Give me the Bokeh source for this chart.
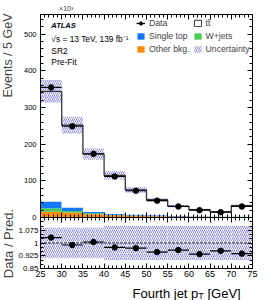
import math
from bokeh.plotting import figure
from bokeh.models import (ColumnDataSource, Label, Span, LinearAxis, SingleIntervalTicker,
                          FixedTicker, Legend, LegendItem, CustomJSTickFormatter)
from bokeh.layouts import column, row
from bokeh.embed import file_html
from bokeh.resources import INLINE

# ---------------- data (values in units of 10^3 events) ----------------
bin_edges = [25, 30, 35, 40, 45, 50, 55, 60, 65, 70, 75]
data = [355, 249, 174, 112, 73, 46, 30, 20, 14.5, 30]
mc_total = [344, 252, 173, 115, 75.3, 48.6, 31.3, 21.4, 15.2, 32.0]
other_bkg = [16, 13.5, 9, 6, 4.5, 3.5, 2.5, 2.0, 1.5, 1.5]
wjets = [9, 4.5, 2.5, 1.5, 1.0, 0.8, 0.5, 0.4, 0.3, 0.4]
single_top = [19, 9, 4.5, 2.5, 2.0, 1.5, 1.0, 0.8, 0.6, 1.0]
unc_up = [0.09, 0.09, 0.09, 0.10, 0.10, 0.10, 0.10, 0.10, 0.10, 0.10]
unc_dn = [0.09, 0.09, 0.09, 0.10, 0.10, 0.10, 0.10, 0.10, 0.10, 0.10]
main_yticks = [0, 100, 200, 300, 400, 500]
ratio_yticks = [0.85, 0.925, 1.0, 1.075]
x_ticks = [25, 30, 35, 40, 45, 50, 55, 60, 65, 70, 75]

FONT = "Liberation Sans"
C_OTHER = "#ff8c00"
C_WJETS = "#48cc58"
C_STOP = "#1478ff"
HATCH = "#6b6be6"

left = bin_edges[:-1]
right = bin_edges[1:]
centers = [(a + b) / 2 for a, b in zip(left, right)]
half = [(b - a) / 2 for a, b in zip(left, right)]

b1 = other_bkg
b2 = [a + b for a, b in zip(b1, wjets)]
b3 = [a + b for a, b in zip(b2, single_top)]
ratio = [d / m for d, m in zip(data, mc_total)]

src = ColumnDataSource(dict(
    left=left, right=right, x=centers,
    xl=[c - h for c, h in zip(centers, half)], xr=[c + h for c, h in zip(centers, half)],
    zero=[0] * len(left), b1=b1, b2=b2, b3=b3, tot=mc_total,
    band_lo=[m * (1 - d) for m, d in zip(mc_total, unc_dn)],
    band_hi=[m * (1 + u) for m, u in zip(mc_total, unc_up)],
    data=data, ratio=ratio,
    r_lo=[1 - d for d in unc_dn], r_hi=[1 + u for u in unc_up],
))

COMMON = dict(output_backend="svg", toolbar_location=None, title=None,
              x_axis_location=None, y_axis_location=None)

LS = 15          # width of the left title strip (page px)
RW = 266 - LS    # width of the right column
OV = 5           # main figure's extra bottom border, overlapped by the ratio panel


def style_axis(ax, labels=True, size="7.5px", tin=5, tout=0, min_in=3, min_out=0, standoff=2):
    ax.axis_line_color = "black"
    ax.major_tick_line_color = "black"
    ax.minor_tick_line_color = "black"
    ax.major_tick_in = tin
    ax.major_tick_out = tout
    ax.minor_tick_in = min_in
    ax.minor_tick_out = min_out
    ax.major_label_text_font = FONT
    ax.major_label_text_color = "black"
    ax.major_label_text_font_size = size
    ax.major_label_standoff = standoff
    if not labels:
        ax.formatter = CustomJSTickFormatter(code="return ''")
        ax.major_label_text_font_size = "0px"
        ax.major_label_standoff = 0


def strip(w, h, xr, yr):
    f = figure(width=w, height=h, x_range=xr, y_range=yr, min_border=0, **COMMON)
    f.grid.visible = False
    f.outline_line_color = None
    return f


# ---------------- main panel (page x 37..252, y 14..217) ----------------
Y_MAX = 554
p = figure(width=RW, height=203 + OV, x_range=(25, 75), y_range=(0, Y_MAX),
           min_border_left=37 - LS, min_border_right=14, min_border_top=0,
           min_border_bottom=OV, **COMMON)
p.grid.visible = False
p.outline_line_color = "black"

yt = SingleIntervalTicker(interval=100, num_minor_ticks=5)
ax_l = LinearAxis(ticker=yt)
style_axis(ax_l, True, "7.5px", standoff=4)
p.add_layout(ax_l, "left")
ax_r = LinearAxis(ticker=yt)
style_axis(ax_r, False)
p.add_layout(ax_r, "right")
ax_t = LinearAxis(ticker=SingleIntervalTicker(interval=5, num_minor_ticks=5))
style_axis(ax_t, False)
p.add_layout(ax_t, "above")
ax_b = LinearAxis(ticker=SingleIntervalTicker(interval=5, num_minor_ticks=5))
style_axis(ax_b, False)
p.add_layout(ax_b, "below")

r_other = p.quad(left="left", right="right", bottom="zero", top="b1", source=src,
                 fill_color=C_OTHER, line_color=None)
r_wj = p.quad(left="left", right="right", bottom="b1", top="b2", source=src,
              fill_color=C_WJETS, line_color=None)
r_st = p.quad(left="left", right="right", bottom="b2", top="b3", source=src,
              fill_color=C_STOP, line_color=None)
p.quad(left="left", right="right", bottom="b3", top="tot", source=src,
       fill_color="white", line_color=None)
r_tt = p.quad(left="left", right="right", bottom="b3", top="tot", source=src,
              fill_color="white", line_color="#333333", line_width=1)
r_tt.visible = False
r_unc = p.quad(left="left", right="right", bottom="band_lo", top="band_hi", source=src,
               fill_color=None, line_color=None, hatch_pattern="/", hatch_color=HATCH,
               hatch_scale=4, hatch_weight=0.9, hatch_alpha=0.9)
p.step(x=bin_edges, y=mc_total + [mc_total[-1]], mode="after", line_color="#333333",
       line_width=1.3)
r_derr = p.segment(x0="xl", x1="xr", y0="data", y1="data", source=src,
                   line_color="black", line_width=1.2)
r_dat = p.scatter(x="x", y="data", source=src, size=5.5, marker="circle",
                  fill_color="black", line_color="black")

legend = Legend(items=[
    LegendItem(label="Data", renderers=[r_derr, r_dat]),
    LegendItem(label="Single top", renderers=[r_st]),
    LegendItem(label="Other bkg.", renderers=[r_other]),
    LegendItem(label="tt\u0304", renderers=[r_tt]),
    LegendItem(label="W+jets", renderers=[r_wj]),
    LegendItem(label="Uncertainty", renderers=[r_unc]),
], location=(96, 163), ncols=2, padding=0, margin=0, spacing=3,
    glyph_width=9, glyph_height=8, label_height=9, label_standoff=4,
    label_text_font=FONT, label_text_font_size="8.7px",
    background_fill_alpha=0, border_line_alpha=0)
p.add_layout(legend)

PX_Y = 203.0 / Y_MAX
PX_X = 215.0 / 50


def ydat(py):
    return (217 - py) / PX_Y


def xdat(px):
    return 25 + (px - 37) / PX_X


txt = dict(text_font=FONT, text_color="black", text_baseline="middle")
p.add_layout(Label(x=xdat(48), y=ydat(25), text="ATLAS", text_font_size="7.5px",
                   text_font_style="bold italic", **txt))
p.add_layout(Label(x=xdat(48), y=ydat(38), text="\u221As = 13 TeV, 139 fb\u207B\u00B9",
                   text_font_size="8.4px", **txt))
p.add_layout(Label(x=xdat(48), y=ydat(50), text="SR2", text_font_size="8.4px", **txt))
p.add_layout(Label(x=xdat(48), y=ydat(61), text="Pre-Fit", text_font_size="8.4px", **txt))

# ---------------- ratio panel (page y 217..282) ----------------
R0, R1 = 0.85, 1.15
pr = figure(width=RW, height=65, x_range=(25, 75), y_range=(R0, R1),
            min_border_left=37 - LS, min_border_right=14, min_border_top=0,
            min_border_bottom=14, **COMMON)
pr.margin = (-OV, 0, 0, 0)
pr.border_fill_color = None
pr.grid.visible = False
pr.outline_line_color = "black"

rt = FixedTicker(ticks=ratio_yticks,
                 minor_ticks=[0.875, 0.9, 0.95, 0.975, 1.025, 1.05, 1.1, 1.125])
rb = LinearAxis(ticker=SingleIntervalTicker(interval=5, num_minor_ticks=5))
style_axis(rb, True, "9px", standoff=2)
pr.add_layout(rb, "below")
ra = LinearAxis(ticker=SingleIntervalTicker(interval=5, num_minor_ticks=5))
style_axis(ra, False)
pr.add_layout(ra, "above")
rl = LinearAxis(ticker=rt)
style_axis(rl, True, "8px", standoff=2)
rl.formatter = CustomJSTickFormatter(code="return String(Math.round(tick*1000)/1000)")
pr.add_layout(rl, "left")
rr = LinearAxis(ticker=rt)
style_axis(rr, False)
pr.add_layout(rr, "right")

pr.quad(left="left", right="right", bottom="r_lo", top="r_hi", source=src,
        fill_color=None, line_color=None, hatch_pattern="/", hatch_color=HATCH,
        hatch_scale=4, hatch_weight=0.9, hatch_alpha=0.9)
pr.add_layout(Span(location=1.0, dimension="width", line_color="black",
                   line_dash="2 2", line_width=1))
pr.segment(x0="xl", x1="xr", y0="ratio", y1="ratio", source=src,
           line_color="black", line_width=1.2)
pr.scatter(x="x", y="ratio", source=src, size=5.5, marker="circle",
           fill_color="black", line_color="black")

# ---------------- text strips (coordinates = page pixels) ----------------
top_strip = strip(RW, 14, (LS, 266), (14, 0))
top_strip.add_layout(Label(x=37, y=8.3, text="\u00D710\u00B3", text_font_size="7px",
                           text_font=FONT, text_baseline="alphabetic"))

bottom_strip = strip(RW, 18, (LS, 266), (300, 282))
xl_txt = dict(text_font=FONT, text_color="black", text_baseline="alphabetic",
              text_align="right")
w_gev = 0.013 * 2835
w_T = 0.009 * 611
bottom_strip.add_layout(Label(x=252, y=292.5, text="[GeV]", text_font_size="13px", **xl_txt))
bottom_strip.add_layout(Label(x=252, y=295.5, x_offset=-w_gev, text="T",
                              text_font_size="9px", **xl_txt))
bottom_strip.add_layout(Label(x=252, y=292.5, x_offset=-(w_gev + w_T), text="Fourth jet p",
                              text_font_size="13px", **xl_txt))

left_strip = strip(LS, 300, (0, LS), (300, 0))
left_strip.add_layout(Label(x=7.5, y=13, text="Events / 5 GeV", angle=math.pi / 2,
                            text_align="right", text_font_size="12.5px", text_font=FONT,
                            text_baseline="middle"))
left_strip.add_layout(Label(x=7.5, y=243, text="Data / Pred.", angle=math.pi / 2,
                            text_align="center", text_font_size="13px", text_font=FONT,
                            text_baseline="middle"))

layout = row(left_strip, column(top_strip, p, pr, bottom_strip))
open("out.html", "w").write(file_html(layout, INLINE))
